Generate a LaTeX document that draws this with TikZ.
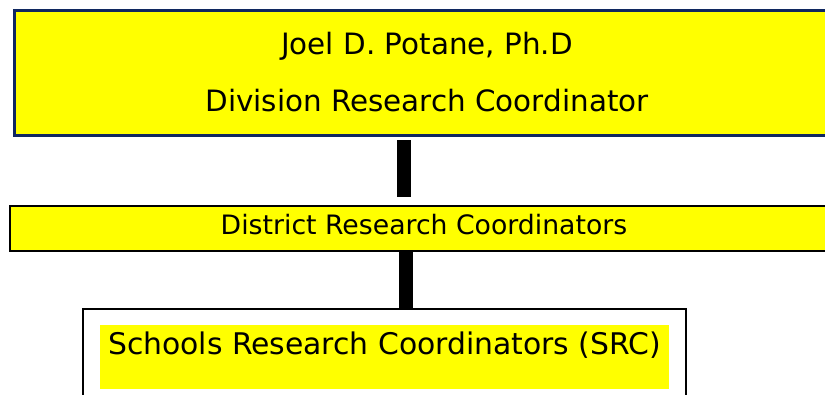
\documentclass[tikz,border=0pt]{standalone}
\usepackage{fontspec}
\setmainfont{DejaVu Sans}
\usetikzlibrary{positioning}

\definecolor{hiyellow}{RGB}{255,255,0}
\definecolor{navyline}{RGB}{16,40,96}

\begin{document}
\begin{tikzpicture}[x=1pt,y=-1pt,
  rolebox/.style={draw, fill=hiyellow, inner sep=0pt},
  bar/.style={line width=14pt}]
  \useasboundingbox (0,0) rectangle (825,394);

  % Division level
  \node[rolebox, draw=navyline, line width=3pt, minimum width=826pt, minimum height=125pt,
        align=center, font=\fontsize{29.4}{57}\selectfont] (division) at (427,72.5)
        {Joel D. Potane, Ph.D\\Division Research Coordinator};

  % District level
  \node[rolebox, line width=2pt, minimum width=828pt, minimum height=45pt,
        text height=19pt, text depth=7pt,
        font=\fontsize{26.7}{30}\selectfont] (district) at (424,228.5)
        {District Research Coordinators};

  % School level
  \node[draw, line width=2.5pt, minimum width=603pt, minimum height=100pt] (schools) at (384.5,359) {};
  \node[fill=hiyellow, inner sep=0pt, minimum width=569pt, minimum height=64pt] (srcmark) at (384.5,357) {};
  \node[font=\fontsize{29.8}{34}\selectfont, inner sep=0pt] (srclabel) at ([yshift=12pt]srcmark.center)
        {Schools Research Coordinators (SRC)};

  % Links
  \draw[bar] ([xshift=-23pt,yshift=-3.5pt]division.south) -- ([xshift=-20pt,yshift=8pt]district.north);
  \draw[bar] ([xshift=-18pt]district.south) -- ([xshift=21.5pt]schools.north);
\end{tikzpicture}
\end{document}
